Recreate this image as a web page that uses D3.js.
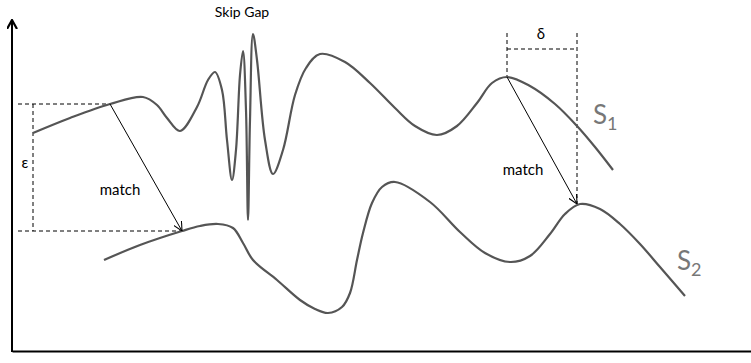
<!DOCTYPE html>
<html><head><meta charset="utf-8">
<script src="https://cdn.jsdelivr.net/npm/d3@7"></script>
<style>html,body{margin:0;padding:0;background:#fff;overflow:hidden}</style>
</head><body>
<svg id="c" width="751" height="363"></svg>
<script>
// Series S1 (x, height above x-axis)
const s1X = [33,70,110,143,157,167,180,197,208,215,222,227,232,236,240,243,246,248,250,253,257,265,273,283,295,306,320,345,370,395,415,437,457,477,492,507,530,555,577,595,613];
const s1Y = [218,233,247,254,246,233,220,244,271,279,261,211,171,201,276,300,241,131,231,317,291,211,177,201,256,283,297,289,268,243,225,216,225,248,268,274,265,247,225,204,181];
// Series S2
const s2X = [104,140,182,200,218,233,243,253,277,300,315,328,342,350,357,363,372,382,395,430,460,485,510,530,550,565,580,600,620,640,660,685];
const s2Y = [91,106,120,125,127,123,108,91,71,51,42,38,44,58,91,118,148,164,169,149,119,98,89,95,117,137,147,142,127,107,84,55];
// Annotations
const epsTop = 247, epsBottom = 120, epsX = 33, epsFrom = 18;
const deltaLeft = 507, deltaRight = 577, deltaY = 302, deltaTop = 318;
const labels = {skip: "Skip Gap", delta: "δ", eps: "ε", match: "match", s1: "S", s2: "S"};

const svg = d3.select("#c");
const x = d3.scaleLinear().domain([0, 751]).range([0, 751]);
const y = d3.scaleLinear().domain([0, 351]).range([351, 0]);
const ink = "#555";

const defs = svg.append("defs");
defs.append("marker").attr("id","ah").attr("viewBox","0 0 10 10").attr("refX",10).attr("refY",5)
  .attr("markerWidth",9).attr("markerHeight",9).attr("markerUnits","userSpaceOnUse").attr("orient","auto")
  .append("path").attr("d","M0,0 L10,5 L0,10").attr("fill","none").attr("stroke","#000").attr("stroke-width",1.2);
defs.append("marker").attr("id","ax").attr("viewBox","0 0 10 10").attr("refX",9).attr("refY",5)
  .attr("markerWidth",10).attr("markerHeight",11).attr("markerUnits","userSpaceOnUse").attr("orient","auto")
  .append("path").attr("d","M0,0 L9,5 L0,10").attr("fill","none").attr("stroke","#000").attr("stroke-width",2.2);

// axes
const xAxis = svg.append("g").attr("transform", `translate(0,${y(0)})`)
  .call(d3.axisBottom(x.copy().domain([12,751]).range([x(12),x(751)])).ticks(0).tickSizeOuter(0));
xAxis.select(".domain").attr("stroke","#000").attr("stroke-width",2);
svg.append("line").attr("x1",x(12)).attr("x2",x(12)).attr("y1",y(0)+1).attr("y2",y(331))
  .attr("stroke","#000").attr("stroke-width",2).attr("marker-end","url(#ax)");

// dashed guides
const dash = g => g.attr("stroke","#000").attr("stroke-width",1).attr("stroke-dasharray","4,3").attr("fill","none");
svg.append("line").attr("x1",x(epsFrom)).attr("x2",x(110)).attr("y1",y(epsTop)).attr("y2",y(epsTop)).call(dash);
svg.append("line").attr("x1",x(epsFrom)).attr("x2",x(182)).attr("y1",y(epsBottom)).attr("y2",y(epsBottom)).call(dash);
svg.append("line").attr("x1",x(epsX)).attr("x2",x(epsX)).attr("y1",y(epsTop)).attr("y2",y(epsBottom)).call(dash);
svg.append("line").attr("x1",x(deltaLeft)).attr("x2",x(deltaLeft)).attr("y1",y(deltaTop)).attr("y2",y(274)).call(dash);
svg.append("line").attr("x1",x(deltaRight)).attr("x2",x(deltaRight)).attr("y1",y(deltaTop)).attr("y2",y(147)).call(dash);
svg.append("line").attr("x1",x(deltaLeft)).attr("x2",x(deltaRight)).attr("y1",y(deltaY)).attr("y2",y(deltaY)).call(dash);

// curves
const line = d3.line().x(d => x(d[0])).y(d => y(d[1])).curve(d3.curveCatmullRom.alpha(0.5));
svg.append("path").attr("d", line(d3.zip(s1X, s1Y))).attr("fill","none").attr("stroke",ink).attr("stroke-width",2.2);
svg.append("path").attr("d", line(d3.zip(s2X, s2Y))).attr("fill","none").attr("stroke",ink).attr("stroke-width",2.2);

// match arrows
svg.append("line").attr("x1",x(110)).attr("y1",y(247)).attr("x2",x(182)).attr("y2",y(120))
  .attr("stroke","#000").attr("stroke-width",1).attr("marker-end","url(#ah)");
svg.append("line").attr("x1",x(507)).attr("y1",y(274)).attr("x2",x(577)).attr("y2",y(147))
  .attr("stroke","#000").attr("stroke-width",1).attr("marker-end","url(#ah)");

// text
const font = "Lato, 'Open Sans', sans-serif";
const t = (tx, px, py, size, fill, anchor) => svg.append("text").attr("x",x(px)).attr("y",y(py))
  .attr("font-family",font).attr("font-size",size).attr("fill",fill).attr("text-anchor",anchor||"start").text(tx);
t(labels.skip, 242, 334, 14, "#000", "middle");
t(labels.delta, 541, 312, 15, "#000", "middle");
t(labels.eps, 25, 183, 15, "#000", "middle");
t(labels.match, 120, 156, 15, "#000", "middle");
t(labels.match, 523, 176, 15, "#000", "middle");
const s1 = t(labels.s1, 593, 227, 26, "#777");
s1.append("tspan").attr("font-size",18).attr("dy",6).text("1");
const s2 = t(labels.s2, 677, 81, 26, "#777");
s2.append("tspan").attr("font-size",18).attr("dy",6).text("2");
</script>
</body></html>
